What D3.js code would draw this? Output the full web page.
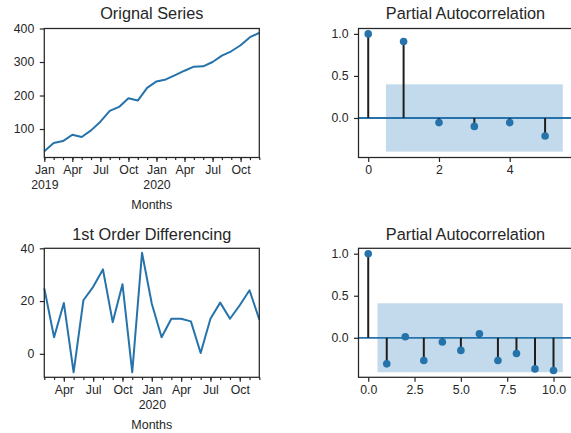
<!DOCTYPE html>
<html>
<head>
<meta charset="utf-8">
<script src="https://cdn.jsdelivr.net/npm/d3@7"></script>
<style>
  body { margin: 0; background: #fff; }
  svg { display: block; font-family: "Liberation Sans", Arial, sans-serif; }
</style>
</head>
<body>
<svg id="chart" width="571" height="433"></svg>
<script>
// ---- data ----
const months = ["2019-01","2019-02","2019-03","2019-04","2019-05","2019-06",
                "2019-07","2019-08","2019-09","2019-10","2019-11","2019-12",
                "2020-01","2020-02","2020-03","2020-04","2020-05","2020-06",
                "2020-07","2020-08","2020-09","2020-10","2020-11","2020-12"];
const seriesValues = [34, 58, 64, 83, 76, 96, 122, 154, 166, 192, 185, 223,
                      242, 248, 261, 274, 286, 287, 300, 319, 332, 350, 374, 387];

const diffMonths = ["2019-02","2019-03","2019-04","2019-05","2019-06",
                    "2019-07","2019-08","2019-09","2019-10","2019-11","2019-12",
                    "2020-01","2020-02","2020-03","2020-04","2020-05","2020-06",
                    "2020-07","2020-08","2020-09","2020-10","2020-11","2020-12"];
const diffValues = [24.8, 6.3, 19.3, -7, 20.3, 25.4, 32, 12, 26.4, -7, 38.3,
                    19, 6.3, 13.3, 13.3, 12.3, 0.3, 13.3, 19.4, 13.3, 18.4, 24.1, 13];

const seriesMonthTicks = ["2019-01","2019-04","2019-07","2019-10","2020-01","2020-04","2020-07","2020-10"];
const diffMonthTicks = ["2019-04","2019-07","2019-10","2020-01","2020-04","2020-07","2020-10"];
const monthNames = ["Jan","Feb","Mar","Apr","May","Jun","Jul","Aug","Sep","Oct","Nov","Dec"];

const seriesYTicks = [100, 200, 300, 400];
const diffYTicks = [0, 20, 40];

const pacfLagsA = [0, 1, 2, 3, 4, 5];
const pacfValuesA = [1.0, 0.91, -0.055, -0.1, -0.055, -0.215];
const confA = 0.40;
const pacfXTicksA = [0, 2, 4];

const pacfLagsB = [0, 1, 2, 3, 4, 5, 6, 7, 8, 9, 10];
const pacfValuesB = [1.0, -0.31, 0.012, -0.27, -0.05, -0.15, 0.048, -0.27, -0.187, -0.37, -0.39];
const confB = 0.41;
const pacfXTicksB = [0, 2.5, 5, 7.5, 10];

const pacfYTicks = [0, 0.5, 1.0];

// ---- style ----
const INK = "#262626";
const BLUE = "#2673ab";
const TICK_FONT = 12.3;
const svg = d3.select("#chart");

const boxes = {
  tl: { x: 44.3, y: 28.5, w: 215, h: 129 },
  tr: { x: 358.5, y: 28.5, w: 214, h: 129 },
  bl: { x: 44.3, y: 248.3, w: 215, h: 129 },
  br: { x: 358.5, y: 248.3, w: 214, h: 129 }
};

function styleAxis(g) {
  g.select(".domain").remove();
  g.selectAll(".tick line").attr("stroke", INK).attr("stroke-width", 1.2);
  g.selectAll(".tick text").attr("fill", INK).attr("font-size", TICK_FONT);
}

function title(box, text, baseline) {
  svg.append("text")
    .attr("x", box.x + box.w / 2).attr("y", baseline)
    .attr("text-anchor", "middle").attr("font-size", 16.3).attr("fill", INK)
    .text(text);
}

function spines(box) {
  svg.append("rect")
    .attr("x", box.x).attr("y", box.y).attr("width", box.w).attr("height", box.h)
    .attr("fill", "none").attr("stroke", INK).attr("stroke-width", 1.25);
}

function yAxis(box, y, ticks, fmt) {
  svg.append("g").attr("transform", `translate(${box.x},0)`)
    .call(d3.axisLeft(y).tickValues(ticks).tickSize(4.5).tickPadding(5.5).tickFormat(fmt))
    .call(styleAxis);
}

// ---- monthly line panel ----
function monthPanel(box, cats, values, majorTicks, yDomain, yTicks, name, titleY, labelY) {
  const x = d3.scalePoint().domain(cats).range([box.x, box.x + box.w]);
  const y = d3.scaleLinear().domain(yDomain).range([box.y + box.h, box.y]);
  title(box, name, titleY);

  // minor ticks, one per month
  svg.append("g").attr("transform", `translate(0,${box.y + box.h})`)
    .call(d3.axisBottom(x).tickValues(cats).tickSize(2.6).tickFormat(""))
    .call(styleAxis);

  // major ticks with month / year labels
  const major = svg.append("g").attr("transform", `translate(0,${box.y + box.h})`)
    .call(d3.axisBottom(x).tickValues(majorTicks).tickSize(4.5).tickPadding(3.5)
      .tickFormat(m => monthNames[+m.slice(5) - 1]))
    .call(styleAxis);
  major.selectAll(".tick text").each(function (m) {
    if (m.slice(5) === "01") {
      d3.select(this).append("tspan").attr("x", 0).attr("dy", "1.2em").text(m.slice(0, 4));
    }
  });

  yAxis(box, y, yTicks, d3.format("d"));

  const pts = cats.map((c, i) => ({ c, v: values[i] }));
  svg.append("path").datum(pts)
    .attr("fill", "none").attr("stroke", BLUE).attr("stroke-width", 2)
    .attr("stroke-linejoin", "round")
    .attr("d", d3.line().x(d => x(d.c)).y(d => y(d.v)));

  spines(box);

  svg.append("text")
    .attr("x", box.x + box.w / 2).attr("y", labelY)
    .attr("text-anchor", "middle").attr("font-size", 12.5).attr("fill", INK)
    .text("Months");
}

// ---- partial autocorrelation panel ----
function pacfPanel(box, lags, values, conf, xTicks, xFmt, titleY) {
  const lo = d3.min(lags), hi = d3.max(lags) + 0.5;
  const pad = (hi - lo) * 0.05;
  const x = d3.scaleLinear().domain([lo - pad, hi + pad]).range([box.x, box.x + box.w]);
  const y = d3.scaleLinear().domain([-0.47, 1.064]).range([box.y + box.h, box.y]);
  title(box, "Partial Autocorrelation", titleY);

  const plot = svg.append("g");
  // confidence band from lag 1 onwards
  plot.append("rect")
    .attr("x", x(lags[1] - 0.5)).attr("width", x(hi) - x(lags[1] - 0.5))
    .attr("y", y(conf)).attr("height", y(-conf) - y(conf))
    .attr("fill", "#1f77b4").attr("fill-opacity", 0.27);

  plot.append("line")
    .attr("x1", box.x).attr("x2", box.x + box.w)
    .attr("y1", y(0)).attr("y2", y(0))
    .attr("stroke", BLUE).attr("stroke-width", 1.8);

  plot.selectAll("line.stem").data(lags).join("line").attr("class", "stem")
    .attr("x1", d => x(d)).attr("x2", d => x(d))
    .attr("y1", y(0)).attr("y2", (d, i) => y(values[i]))
    .attr("stroke", "#1e1e1e").attr("stroke-width", 2);

  plot.selectAll("circle").data(lags).join("circle")
    .attr("cx", d => x(d)).attr("cy", (d, i) => y(values[i]))
    .attr("r", 3.8).attr("fill", BLUE);

  svg.append("g").attr("transform", `translate(0,${box.y + box.h})`)
    .call(d3.axisBottom(x).tickValues(xTicks).tickSize(4.5).tickPadding(3.5).tickFormat(xFmt))
    .call(styleAxis);
  yAxis(box, y, pacfYTicks, d3.format(".1f"));
  spines(box);
}

monthPanel(boxes.tl, months, seriesValues, seriesMonthTicks, [15, 400], seriesYTicks,
           "Orignal Series", 19, 208.5);
monthPanel(boxes.bl, diffMonths, diffValues, diffMonthTicks, [-8.9, 40], diffYTicks,
           "1st Order Differencing", 240.3, 428.5);
pacfPanel(boxes.tr, pacfLagsA, pacfValuesA, confA, pacfXTicksA, d3.format("d"), 19);
pacfPanel(boxes.br, pacfLagsB, pacfValuesB, confB, pacfXTicksB, d3.format(".1f"), 240.3);
</script>
</body>
</html>
